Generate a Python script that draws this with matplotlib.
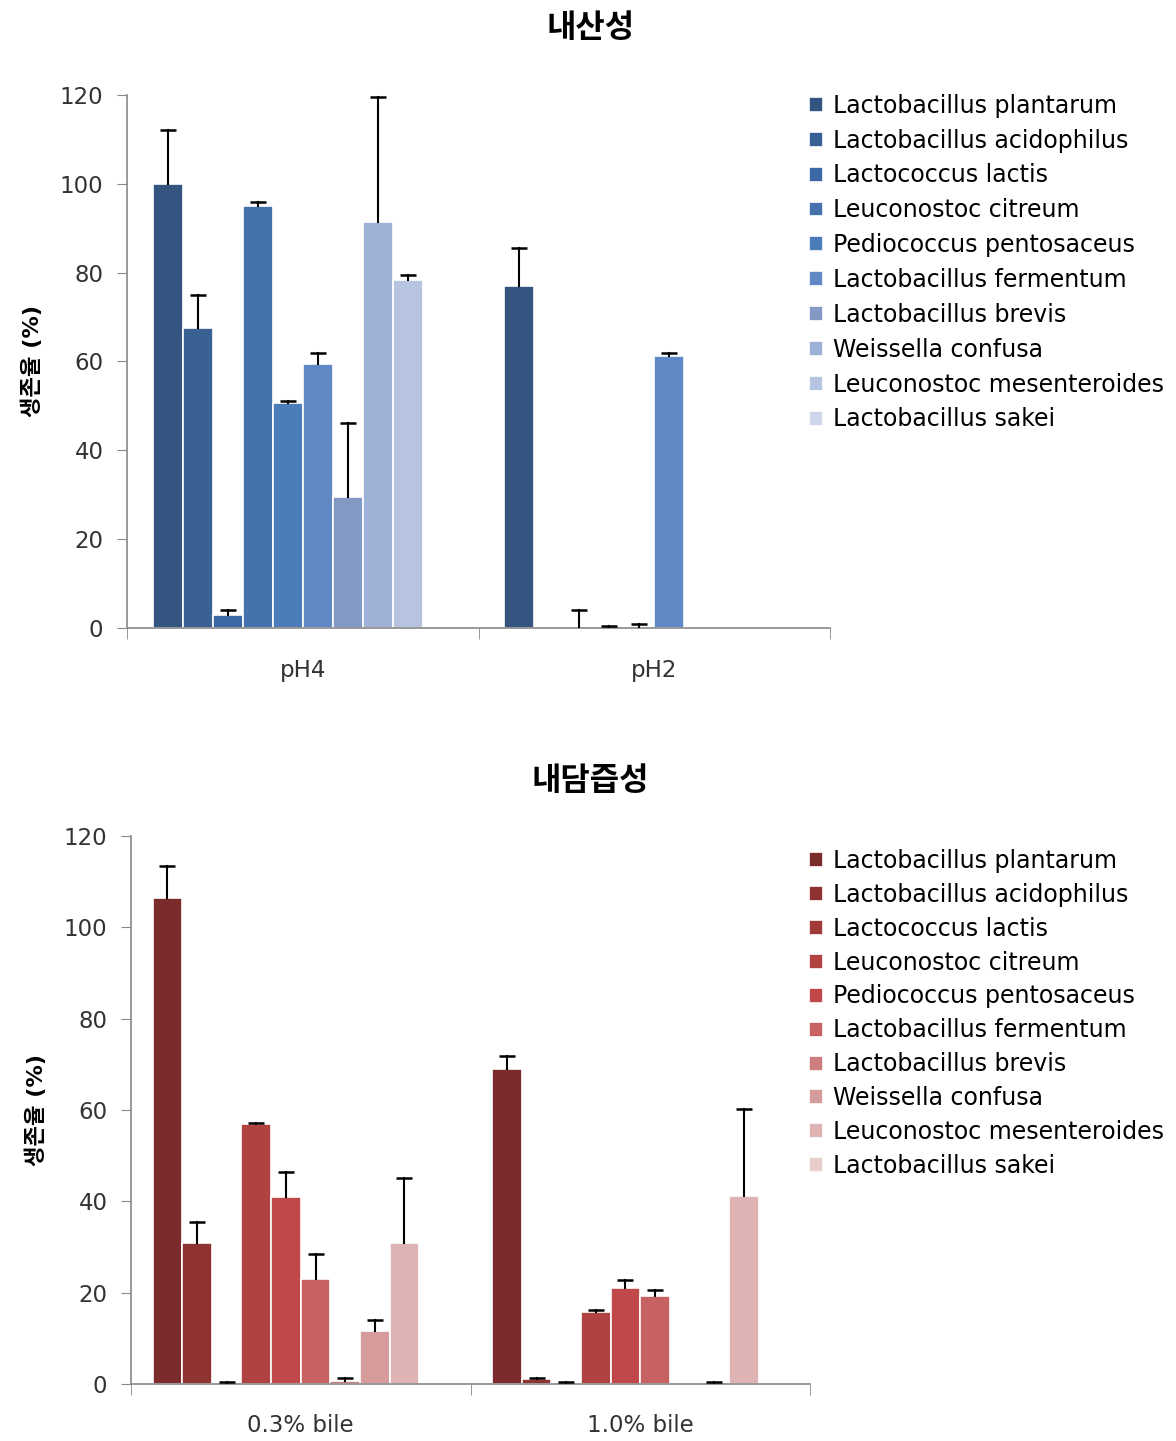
import matplotlib
matplotlib.use("Agg")
import matplotlib.pyplot as plt
import numpy as np

plt.rcParams['font.family'] = ['DejaVu Sans', 'Noto Sans CJK KR']

strains = ["Lactobacillus plantarum", "Lactobacillus acidophilus", "Lactococcus lactis",
           "Leuconostoc citreum", "Pediococcus pentosaceus", "Lactobacillus fermentum",
           "Lactobacillus brevis", "Weissella confusa", "Leuconostoc mesenteroides",
           "Lactobacillus sakei"]

# acid tolerance (survival %, mean and upper error)
acid_groups = ["pH4", "pH2"]
acid_ph4 = [100, 67.5, 3.0, 95.0, 50.6, 59.4, 29.5, 91.3, 78.3, 0]
acid_ph4_err = [12.0, 7.5, 1.0, 0.8, 0.5, 2.5, 16.6, 28.3, 1.2, 0]
acid_ph2 = [77.0, 0, 0, 0.3, 0, 61.2, 0, 0, 0, 0]
acid_ph2_err = [8.6, 0, 4.0, 0.2, 0.8, 0.8, 0, 0, 0, 0]

# bile tolerance
bile_groups = ["0.3% bile", "1.0% bile"]
bile_03 = [106.5, 30.9, 0.3, 56.9, 40.9, 22.9, 0.6, 11.5, 30.9, 0]
bile_03_err = [6.9, 4.6, 0.1, 0.3, 5.6, 5.6, 0.8, 2.5, 14.2, 0]
bile_10 = [68.9, 1.0, 0.3, 15.8, 20.9, 19.2, 0, 0.3, 41.1, 0]
bile_10_err = [3.0, 0.3, 0.1, 0.4, 1.8, 1.3, 0, 0.1, 19.2, 0]

blues = ["#33557f", "#3a6193", "#3c69a5", "#4572ad", "#4c7cba", "#6088c4",
         "#8399c5", "#9eb1d6", "#b7c4e0", "#cdd6ea"]
reds = ["#7b2b2b", "#8e3232", "#a03a3a", "#b04242", "#c04848", "#c86262",
        "#cd7f7f", "#d69b9b", "#ddb3b3", "#e8cdcd"]


def draw_panel(ax, groups, vals, errs, colors, width, title, title_y, legend_y, spacing, fig):
    n = len(strains)
    for i in range(n):
        xs = np.arange(len(groups)) + (i - (n - 1) / 2) * width
        hs = [v[i] for v in vals]
        es = [e[i] for e in errs]
        ax.bar(xs, hs, width, color=colors[i], edgecolor="white", linewidth=1.2,
               label=strains[i], zorder=2)
        # upper error bar only: stem + cap
        for x, h, e in zip(xs, hs, es):
            if e > 0:
                ax.plot([x, x], [h, h + e], color="black", lw=1.5, zorder=3)
                ax.plot([x], [h + e], marker="_", ms=11, mew=1.8, color="black", zorder=3)
    ax.set_xlim(-0.5, len(groups) - 0.5)
    ax.set_ylim(0, 120)
    ax.set_yticks(range(0, 121, 20))
    ax.set_xticks(range(len(groups)))
    ax.set_xticklabels(groups)
    ax.set_xticks([-0.5 + k for k in range(len(groups) + 1)], minor=True)
    ax.tick_params(axis="x", which="major", length=0, pad=22, labelsize=16.5, colors="#333333")
    ax.tick_params(axis="x", which="minor", length=8, color="#888888", direction="out")
    ax.tick_params(axis="y", length=7, color="#888888", labelsize=16.5, colors="#333333", pad=10)
    for s in ["top", "right"]:
        ax.spines[s].set_visible(False)
    for s in ["left", "bottom"]:
        ax.spines[s].set_color("#888888")
        ax.spines[s].set_linewidth(1.2)
    ax.set_ylabel("생존율 (%)", fontsize=16, fontweight="bold", labelpad=12)
    fig.text(0.502, title_y, title, ha="center", va="center", fontsize=23, fontweight="bold")
    ax.legend(loc="upper left", bbox_to_anchor=(0.68, legend_y), bbox_transform=fig.transFigure,
              frameon=False, fontsize=17, handlelength=0.6, handleheight=0.6,
              handletextpad=0.4, labelspacing=spacing, borderaxespad=0)


fig = plt.figure(figsize=(11.76, 14.41), dpi=100)
ax1 = fig.add_axes([0.108, 0.5642, 0.598, 0.3699])
ax2 = fig.add_axes([0.1114, 0.0396, 0.5774, 0.3803])

draw_panel(ax1, acid_groups, [acid_ph4, acid_ph2], [acid_ph4_err, acid_ph2_err],
           blues, 0.0853, "내산성", 0.980, 0.9415, 0.46, fig)
draw_panel(ax2, bile_groups, [bile_03, bile_10], [bile_03_err, bile_10_err],
           reds, 0.0873, "내담즙성", 0.458, 0.4175, 0.42, fig)

fig.savefig("out.png", dpi=100)
